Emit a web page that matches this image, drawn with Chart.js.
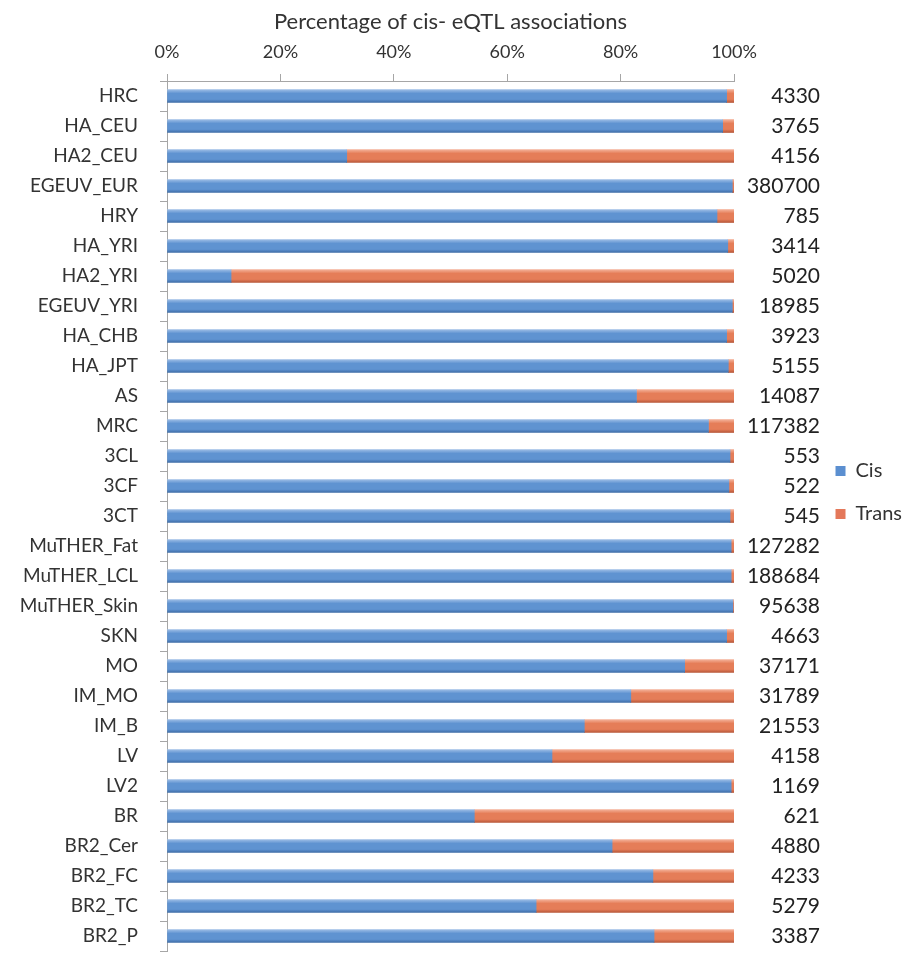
<!DOCTYPE html>
<html>
<head>
<meta charset="utf-8">
<script src="https://cdn.jsdelivr.net/npm/chart.js@4/dist/chart.umd.min.js"></script>
<style>
  html, body { margin: 0; padding: 0; background: #ffffff; overflow: hidden; }
  #wrap { width: 910px; height: 955px; }
</style>
</head>
<body>
<div id="wrap"><canvas id="c" width="910" height="955"></canvas></div>
<script>
const categories = ["HRC","HA_CEU","HA2_CEU","EGEUV_EUR","HRY","HA_YRI","HA2_YRI","EGEUV_YRI","HA_CHB","HA_JPT","AS","MRC","3CL","3CF","3CT","MuTHER_Fat","MuTHER_LCL","MuTHER_Skin","SKN","MO","IM_MO","IM_B","LV","LV2","BR","BR2_Cer","BR2_FC","BR2_TC","BR2_P"];
const counts = ["4330","3765","4156","380700","785","3414","5020","18985","3923","5155","14087","117382","553","522","545","127282","188684","95638","4663","37171","31789","21553","4158","1169","621","4880","4233","5279","3387"];
const cisPct = [98.7,98.0,31.7,99.7,97.0,98.9,11.3,99.7,98.7,99.0,82.8,95.5,99.3,99.1,99.3,99.5,99.5,99.8,98.7,91.3,81.8,73.6,67.9,99.5,54.2,78.5,85.7,65.1,85.9];
const transPct = [1.3,2.0,68.3,0.3,3.0,1.1,88.7,0.3,1.3,1.0,17.2,4.5,0.7,0.9,0.7,0.5,0.5,0.2,1.3,8.7,18.2,26.4,32.1,0.5,45.8,21.5,14.3,34.9,14.1];
const xTicks = ["0%","20%","40%","60%","80%","100%"];
const titleText = "Percentage of cis- eQTL associations";
const seriesNames = ["Cis", "Trans"];

const FONT = "Lato, 'Noto Sans', sans-serif";
const CIS_STOPS = ['#9dbde6', '#5f93d1', '#3f6ea8'];
const TRANS_STOPS = ['#f4b29a', '#e57d58', '#b8583a'];
const LEGEND_COLORS = ['#5b8fd0', '#e4785a'];

function barGradient(stops) {
  return function(ctx) {
    const chart = ctx.chart;
    if (ctx.type !== 'data' || !chart.chartArea || !chart.scales.y) return stops[1];
    const y = chart.scales.y.getPixelForValue(ctx.dataIndex);
    const g = chart.ctx.createLinearGradient(0, y - 6.5, 0, y + 6.5);
    g.addColorStop(0, stops[0]);
    g.addColorStop(0.3, stops[1]);
    g.addColorStop(0.75, stops[1]);
    g.addColorStop(1, stops[2]);
    return g;
  };
}

new Chart(document.getElementById('c'), {
  type: 'bar',
  data: {
    labels: categories,
    datasets: [
      { label: seriesNames[0], data: cisPct, backgroundColor: barGradient(CIS_STOPS),
        borderWidth: 0, barThickness: 13, stack: 's', yAxisID: 'y' },
      { label: seriesNames[1], data: transPct, backgroundColor: barGradient(TRANS_STOPS),
        borderWidth: 0, barThickness: 13, stack: 's', yAxisID: 'y' }
    ]
  },
  options: {
    indexAxis: 'y',
    responsive: false,
    animation: false,
    devicePixelRatio: 1,
    layout: { padding: { top: 4, left: 0, right: -2, bottom: 4 } },
    scales: {
      x: {
        position: 'top',
        stacked: true,
        min: 0, max: 100,
        ticks: {
          stepSize: 20,
          padding: 11,
          color: '#333',
          font: { family: FONT, size: 18 },
          callback: (v, i) => xTicks[i]
        },
        grid: { display: true, drawOnChartArea: false, drawTicks: true, tickLength: 7, color: '#a6a6a6' },
        border: { display: true, color: '#a6a6a6', width: 1 },
        title: { display: true, text: titleText, color: '#333', font: { family: FONT, size: 22 }, padding: { top: 5, bottom: 0 } },
        afterFit: (s) => { s.height = 77; }
      },
      y: {
        position: 'left',
        stacked: true,
        ticks: { color: '#333', font: { family: FONT, size: 19 }, padding: 22, autoSkip: false },
        grid: { display: true, offset: true, drawOnChartArea: false, drawTicks: true, tickLength: 7, color: '#a6a6a6' },
        border: { display: true, color: '#a6a6a6', width: 1 },
        afterFit: (s) => { s.width = 167; s.paddingTop = 0; s.paddingBottom = 0; }
      },
      yr: {
        type: 'category',
        position: 'right',
        labels: counts,
        offset: true,
        ticks: { color: '#222', font: { family: FONT, size: 21 }, padding: 4, crossAlign: 'far', autoSkip: false },
        grid: { display: false, drawTicks: false },
        border: { display: false },
        afterFit: (s) => { s.width = 86; s.paddingTop = 0; s.paddingBottom = 0; }
      }
    },
    plugins: {
      legend: {
        display: true,
        position: 'right',
        align: 'center',
        title: { display: true, text: ' ', font: { size: 10 }, padding: { top: 12.75, bottom: 12.75 } },
        labels: {
          boxWidth: 10, boxHeight: 10, padding: 15.5, color: '#333',
          font: { family: FONT, size: 20, lineHeight: 1.375 },
          generateLabels: (chart) => Chart.defaults.plugins.legend.labels.generateLabels(chart).map((l, i) => ({
            ...l, text: [l.text], fillStyle: LEGEND_COLORS[i], strokeStyle: LEGEND_COLORS[i], lineWidth: 0
          }))
        }
      },
      tooltip: { enabled: false }
    }
  }
});
</script>
</body>
</html>
